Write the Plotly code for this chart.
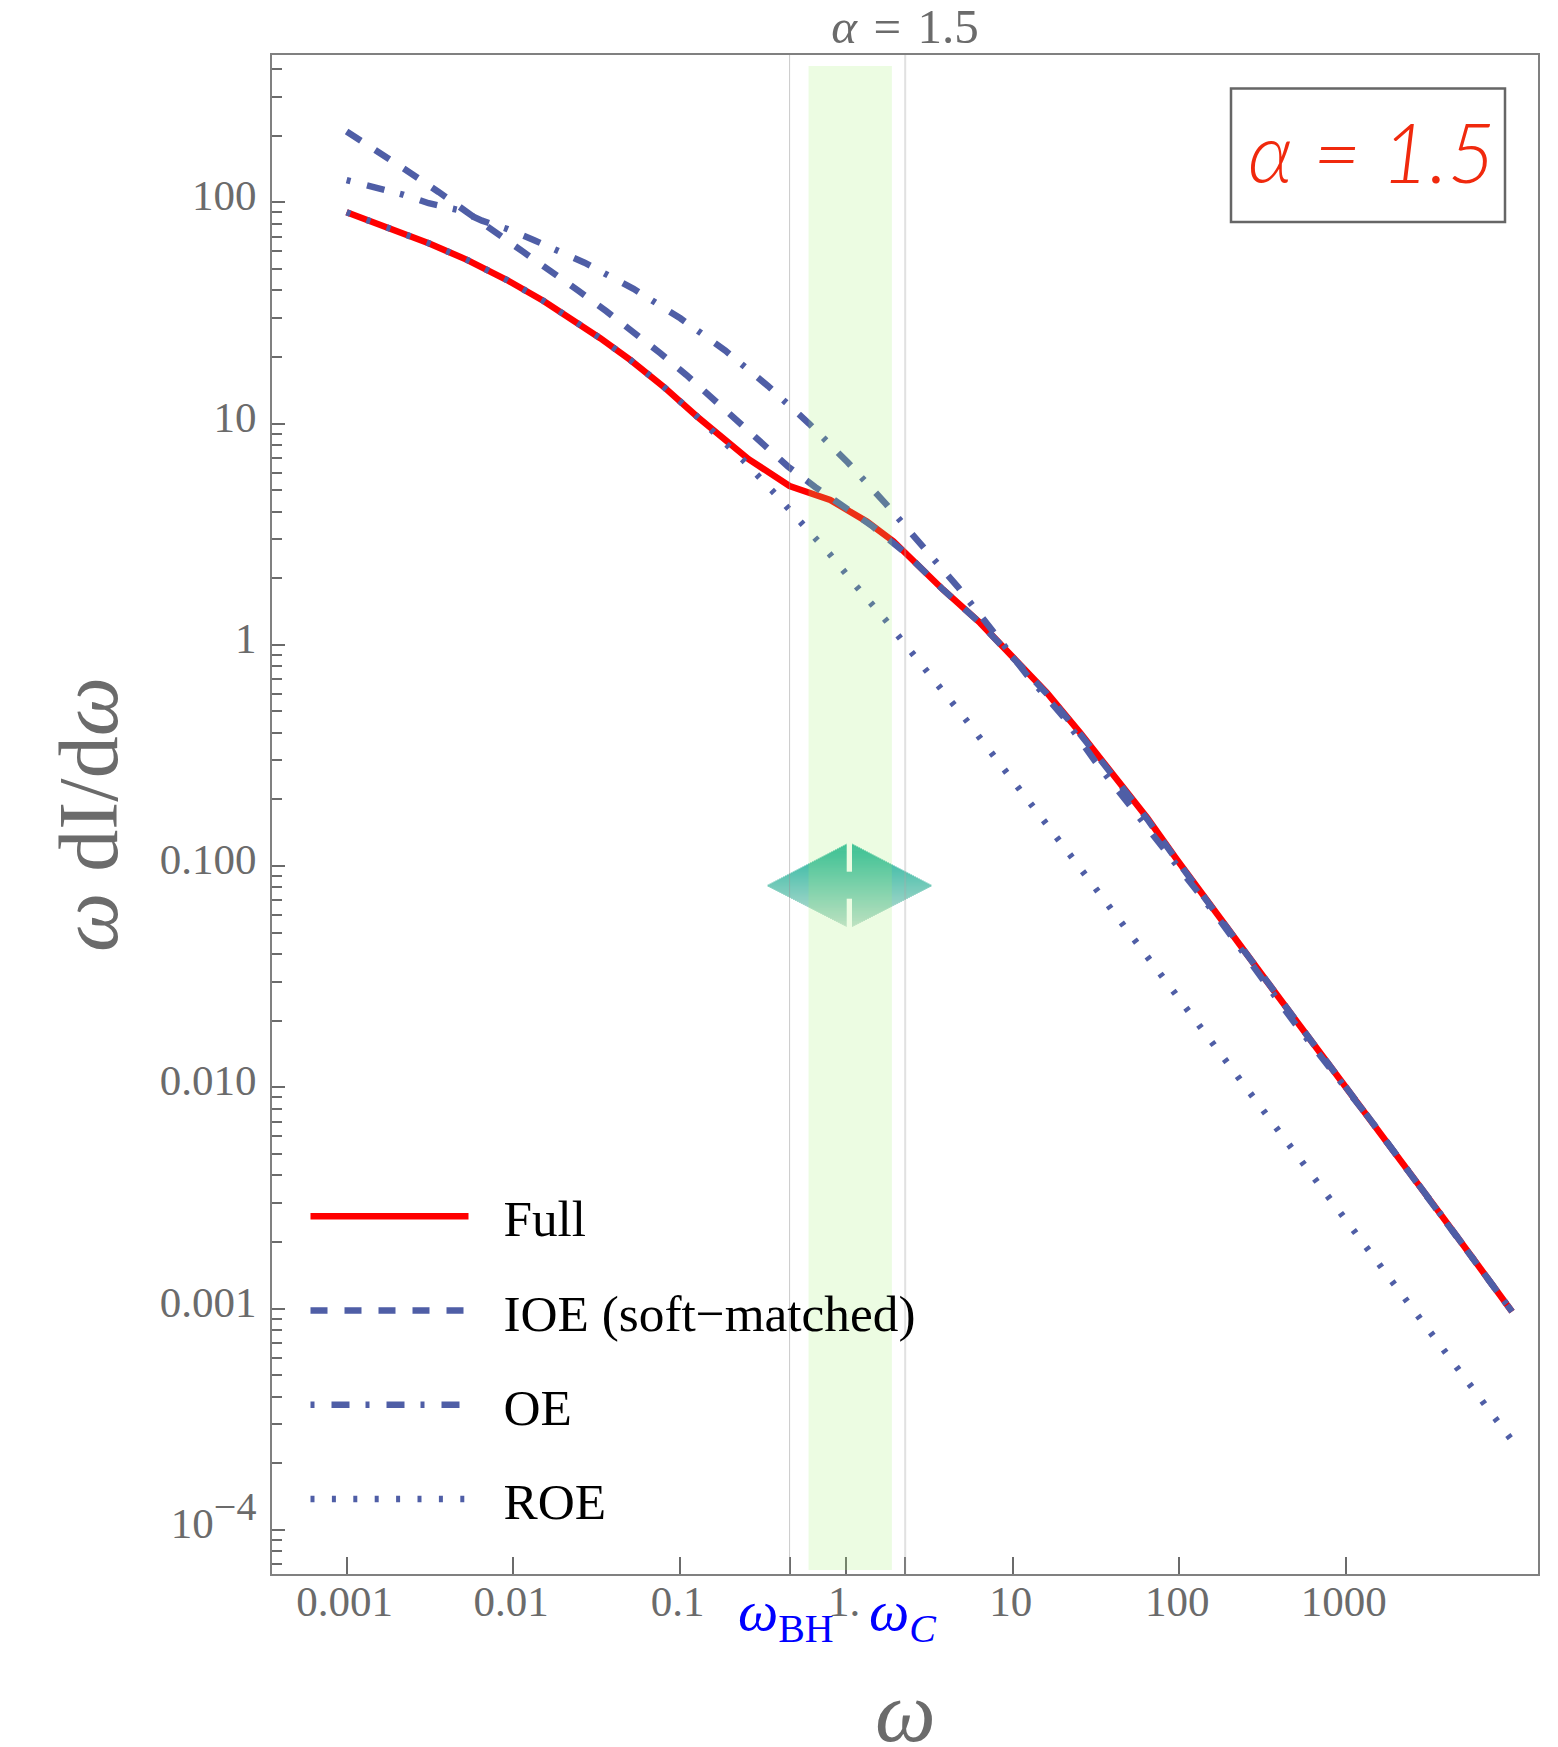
import plotly.graph_objects as go

# ---- data: log10(omega) and log10(omega dI/domega) ----
full_lx = [-3.00,-2.747,-2.507,-2.277,-2.037,-1.817,-1.607,-1.477,-1.297,-1.097,-0.896,-0.716,-0.586,-0.340,-0.096,0.124,0.284,0.354,
           0.582,0.804,1.002,1.206,1.405,1.603,1.807,1.987,2.227,2.587,2.887,3.187,3.583,3.998]
full_ly = [1.955,1.887,1.815,1.740,1.649,1.554,1.454,1.386,1.288,1.167,1.032,0.919,0.839,0.718,0.655,0.557,0.467,0.416,
           0.249,0.099,-0.054,-0.217,-0.398,-0.587,-0.782,-0.972,-1.220,-1.583,-1.886,-2.187,-2.588,-3.014]
ioe_lx = [-3.00,-2.788,-2.617,-2.448,-2.287,-2.107,-1.941,-1.773,-1.607,-1.441,-1.277,-1.116,-0.960,-0.810,-0.656,
          -0.502,-0.350,-0.186,-0.020,0.154,0.354,0.582,0.804,1.002,1.206,1.405,1.603,1.807,1.987,2.227,2.587,2.887,3.187,3.583,3.998]
ioe_ly = [2.320,2.220,2.133,2.047,1.957,1.865,1.777,1.690,1.600,1.508,1.416,1.318,1.220,1.118,1.014,
          0.908,0.806,0.713,0.625,0.538,0.416,0.249,0.099,-0.058,-0.222,-0.404,-0.593,-0.787,-0.976,-1.222,-1.584,-1.886,-2.187,-2.588,-3.014]
oe_lx = [-3.00,-2.823,-2.662,-2.507,-2.327,-2.187,-2.033,-1.877,-1.571,-1.277,-0.996,-0.726,-0.470,-0.222,0.010,0.238,
         0.454,0.670,0.874,1.085,1.303,1.495,1.705,1.915,2.227,2.683,3.127,3.583,3.998]
oe_ly = [2.100,2.069,2.035,1.996,1.965,1.917,1.879,1.830,1.727,1.609,1.476,1.330,1.170,0.999,0.824,0.637,
         0.452,0.262,0.068,-0.136,-0.324,-0.527,-0.728,-0.926,-1.228,-1.700,-2.127,-2.588,-3.014]
roe_lx = [-3.00,-2.747,-2.507,-2.277,-2.037,-1.817,-1.607,-1.477,-1.297,-1.097,-0.896,-0.716,-0.620,-0.444,-0.270,-0.100,0.065,0.232,
          0.714,1.104,1.339,1.959,2.345,2.651,2.961,3.345,3.962,3.998]
roe_ly = [1.955,1.887,1.815,1.740,1.649,1.554,1.454,1.386,1.288,1.167,1.032,0.904,0.836,0.696,0.554,0.411,0.261,0.116,
          -0.334,-0.714,-0.944,-1.560,-1.944,-2.252,-2.560,-2.945,-3.562,-3.597]

omega_bh = 0.457
omega_c = 2.26
band_lo = 0.594
band_hi = 1.88

x_tickvals = [0.001, 0.01, 0.1, omega_bh, 1, omega_c, 10, 100, 1000]
x_ticktext = ["0.001", "0.01", "0.1", "", "1.", "", "10", "100", "1000"]
y_tickvals = [100, 10, 1, 0.1, 0.01, 0.001, 0.0001]
y_ticktext = ["100", "10", "1", "0.100", "0.010", "0.001",
              '10<sup><span style="font-size:40px">\u22124</span></sup>']
y_minor = [m * 10.0**e for e in range(-5, 3) for m in range(2, 10)
           if 6.3e-5 < m * 10.0**e < 460]

# ---- layout geometry (page pixels) ----
W, H = 1558, 1747
L, R, T, B = 272, 1538, 55, 1574
px = lambda v: (v - L) / (R - L)
py = lambda v: (B - v) / (B - T)

SERIF = "Liberation Serif"
GREY = "#6b6b6b"
BLUE = "#4f5ea6"

fig = go.Figure()
SP = "\u00a0\u00a0\u200a"
series = [
    ("Full", full_lx, full_ly, dict(color="#ff0000", width=6.5)),
    ("IOE (soft\u2212matched)", ioe_lx, ioe_ly, dict(color=BLUE, width=6.5, dash="17px,17px")),
    ("OE", oe_lx, oe_ly, dict(color=BLUE, width=6.5, dash="4px,17px,18px,16px")),
    ("ROE", roe_lx, roe_ly, dict(color=BLUE, width=6.5, dash="4px,17.4px")),
]
for name, lx, ly, line in series:
    fig.add_trace(go.Scatter(
        x=[10**v for v in lx], y=[10**v for v in ly], mode="lines", name=SP + name,
        legendgroup=name, line=line))

shapes = []
# gradient diamond, made of thin strips (below the traces and the band)
cx, cy, hw, top, bot = 849.5, 885.5, 82.8, 842.5, 928.0
c0, c1 = (0, 170, 142), (190, 218, 208)
y = top
while y < bot:
    frac = abs(y + 0.5 - cy) / ((cy - top) if y < cy else (bot - cy))
    w = hw * (1 - frac)
    t = (y - top) / (bot - top)
    col = "rgb(%d,%d,%d)" % tuple(round(a + (b - a) * t) for a, b in zip(c0, c1))
    shapes.append(dict(type="rect", xref="paper", yref="paper", layer="below",
                       x0=px(cx - w), x1=px(cx + w), y0=py(y), y1=py(y + 1.2),
                       fillcolor=col, line_width=0))
    y += 1
for y0, y1 in [(840, 871.7), (898.7, 930)]:
    shapes.append(dict(type="rect", xref="paper", yref="paper", layer="below",
                       x0=px(846.7), x1=px(852), y0=py(y0), y1=py(y1),
                       fillcolor="white", line_width=0))
# green band
shapes.append(dict(type="rect", xref="x", yref="paper", layer="above",
                   x0=band_lo, x1=band_hi, y0=py(1570), y1=py(66),
                   fillcolor="rgba(160,240,110,0.2)", line_width=0))
# omega_BH, omega_C markers
shapes.append(dict(type="line", xref="x", yref="paper", layer="above", x0=omega_bh, x1=omega_bh,
                   y0=0, y1=1, line=dict(color="rgba(150,150,150,0.5)", width=1)))
shapes.append(dict(type="line", xref="x", yref="paper", layer="above", x0=omega_c, x1=omega_c,
                   y0=0, y1=1, line=dict(color="rgba(170,170,170,0.35)", width=2)))
# inset box
shapes.append(dict(type="rect", xref="paper", yref="paper", layer="above",
                   x0=px(1231), x1=px(1505), y0=py(222), y1=py(88.5),
                   fillcolor="rgba(0,0,0,0)", line=dict(color="#666666", width=2.5)))

annotations = [
    dict(text="\u03b1 = 1.5", xref="paper", yref="paper", x=px(1371), y=py(150.5),
         xanchor="center", yanchor="middle", showarrow=False,
         font=dict(family="Lato", size=82, color="#f0290d", style="italic", weight=300)),
    dict(text="<i>\u03c9</i><sub>BH</sub>", xref="paper", yref="paper", x=px(786), y=py(1615),
         xanchor="center", yanchor="middle", showarrow=False,
         font=dict(family=SERIF, size=57, color="#0000ff")),
    dict(text="<i>\u03c9</i><sub><i>C</i></sub>", xref="paper", yref="paper", x=px(902), y=py(1615),
         xanchor="center", yanchor="middle", showarrow=False,
         font=dict(family=SERIF, size=57, color="#0000ff")),
    dict(text="<i>\u03c9</i>", xref="paper", yref="paper", x=0.5, y=py(1712),
         xanchor="center", yanchor="middle", showarrow=False,
         font=dict(family=SERIF, size=86, color=GREY)),
]

fig.update_layout(
    width=W, height=H, autosize=False,
    margin=dict(l=L, r=W - R, t=T, b=H - B, pad=0),
    paper_bgcolor="white", plot_bgcolor="white",
    font=dict(family=SERIF, color=GREY),
    title=dict(text="<i>\u03b1</i>\u200a = \u200a1.5", x=0.5, xref="paper", xanchor="center",
               y=1 - 26 / H, yref="container", yanchor="middle",
               font=dict(family=SERIF, size=49, color=GREY)),
    xaxis=dict(type="log", range=[-3.448, 4.154], showgrid=False, zeroline=False, automargin=False,
               showline=True, mirror=True, linecolor="#808080", linewidth=2,
               ticks="inside", ticklen=17, tickwidth=2, tickcolor=GREY,
               tickmode="array", tickvals=x_tickvals, ticktext=x_ticktext,
               ticklabelstandoff=-12, ticklabelshift=-2,
               tickfont=dict(family=SERIF, size=43, color=GREY)),
    yaxis=dict(type="log", range=[-4.2, 2.666], showgrid=False, zeroline=False, automargin=False,
               showline=True, mirror=True, linecolor="#808080", linewidth=2,
               ticks="inside", ticklen=13, tickwidth=2, tickcolor=GREY,
               tickmode="array", tickvals=y_tickvals, ticktext=y_ticktext,
               ticklabelstandoff=5, ticklabelshift=-7,
               tickfont=dict(family=SERIF, size=43, color=GREY),
               minor=dict(ticks="inside", ticklen=10, tickwidth=2, tickcolor=GREY, tickvals=y_minor),
               title=dict(text="<i>\u03c9</i> dI/d<i>\u03c9</i>",
                          font=dict(family=SERIF, size=84, color=GREY), standoff=14)),
    legend=dict(x=px(305.5), y=py(1176.5), xanchor="left", yanchor="top",
                bgcolor="rgba(0,0,0,0)", borderwidth=0, itemwidth=158, itemsizing="trace",
                tracegroupgap=24.5, font=dict(family=SERIF, size=51.3, color="black")),
    shapes=shapes, annotations=annotations,
)

fig.write_html("out.html", config=dict(displayModeBar=False),
               post_script="document.body.style.margin='0';document.documentElement.style.overflow='hidden';")
